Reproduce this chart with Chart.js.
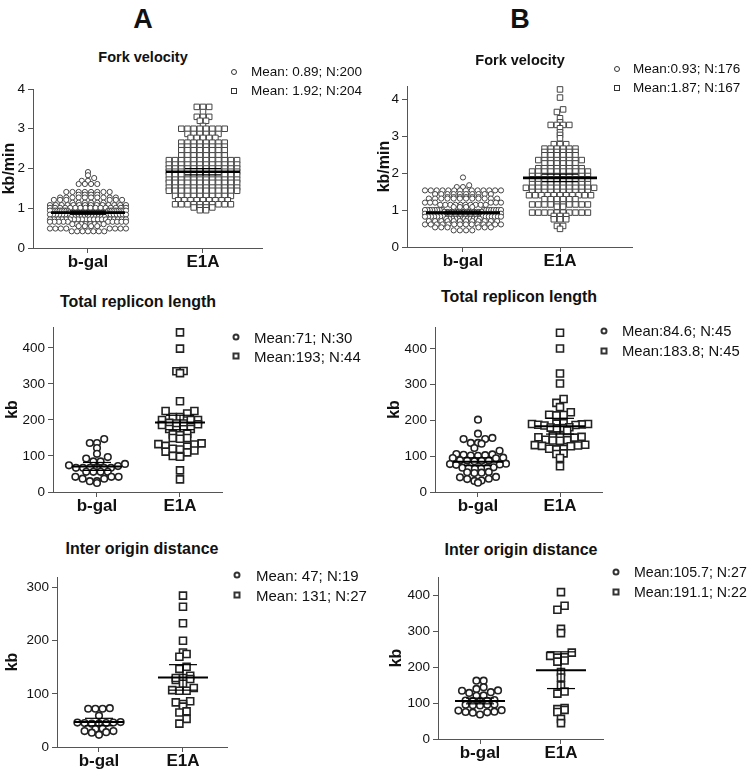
<!DOCTYPE html>
<html>
<head>
<meta charset="utf-8">
<script src="https://cdn.jsdelivr.net/npm/chart.js@4.4.0/dist/chart.umd.min.js"></script>
<style>
  body { margin:0; width:750px; height:773px; position:relative; overflow:hidden; background:#fff;
         font-family:"Liberation Sans", Arial, sans-serif; color:#111; }
  canvas { position:absolute; }
  .txt { position:absolute; white-space:nowrap; line-height:1; }
  .mid { transform:translate(-50%,-50%); }
  .lft { transform:translateY(-50%); }
  .mk  { position:absolute; box-sizing:border-box; background:#fff; transform:translate(-50%,-50%); }
</style>
</head>
<body>
<script>
/* ========= 1.  DATA  ================================================ */
const groups = ['b-gal', 'E1A'];

/* Fork velocity (kb/min) – each swarm row: level + number of fibres */
const forkA_bgal_lvl = [1.91,1.83,1.76,1.69,1.61,1.41,1.34,1.27,1.21,1.14,1.08,1.01,0.94,0.89,0.84,0.78,0.72,0.66,0.60,0.55,0.49,0.42];
const forkA_bgal_n   = [1,1,1,2,4,8,4,10,6,6,14,16,22,22,14,12,20,10,8,4,8,7];
const forkA_e1a_lvl  = [3.55,3.42,3.30,3.20,3.07,3.00,2.87,2.77,2.65,2.55,2.46,2.33,2.21,2.10,2.00,1.92,1.84,1.72,1.64,1.52,1.44,1.31,1.20,1.10,1.02,0.95];
const forkA_e1a_n    = [3,1,3,2,1,8,6,5,8,8,8,8,12,12,12,12,12,12,12,12,12,10,9,10,4,2];

const forkB_bgal_lvl = [1.88,1.67,1.62,1.53,1.43,1.35,1.31,1.20,1.14,1.08,1.00,0.95,0.90,0.82,0.76,0.70,0.61,0.53,0.45];
const forkB_bgal_n   = [1,1,2,14,10,6,12,6,10,4,16,16,16,14,12,12,14,6,4];
const forkB_e1a_lvl  = [4.26,4.04,3.72,3.65,3.48,3.37,3.30,3.21,3.10,3.03,2.94,2.78,2.66,2.57,2.48,2.35,2.26,2.13,2.04,1.92,1.83,1.70,1.60,1.49,1.40,1.29,1.15,1.09,0.93,0.84,0.75,0.57,0.49];
const forkB_e1a_n    = [1,1,1,1,1,1,4,1,1,1,1,3,6,6,6,8,6,8,10,10,10,10,12,10,11,6,10,2,10,3,3,2,1];

/* Total replicon length (kb) */
const replA_bgal = [147,136,136,122,106,97,93,85,85,78,74,72,67,67,67,67,67,67,56,56,56,56,42,42,42,37,37,30,30,25];
const replA_e1a  = [443,398,336,335,330,252,225,225,218,208,208,200,200,200,192,190,190,188,186,175,175,174,172,
                    162,160,158,150,150,148,135,133,132,128,126,120,118,115,112,110,100,100,98,60,35];
const replB_bgal = [202,163,151,148,148,137,137,135,123,115,106,105,104,103,102,101,96,95,94,89,88,88,87,86,
                    79,78,77,76,69,68,68,67,66,65,56,55,54,53,42,41,37,36,32,31,26];
const replB_e1a  = [445,401,331,303,260,249,237,223,216,215,214,192,191,190,190,189,188,187,186,181,180,179,178,
                    172,156,155,154,153,152,146,145,144,143,132,131,130,129,128,121,120,119,108,106,95,72];

/* Inter origin distance (kb) */
const origA_bgal = [73,72,72,72,59,47,46,46,45,45,44,44,35,34,30,30,28,27,23];
const origA_e1a  = [285,264,233,200,178,175,170,151,147,134,130,128,126,130,119,111,106,106,107,86,81,84,76,67,65,53,44];
const origB_bgal = [162,162,144,139,135,134,130,128,121,120,108,107,106,105,104,96,95,95,94,93,80,79,76,75,74,73,68];
const origB_e1a  = [408,370,359,306,294,240,231,227,226,218,215,186,171,149,132,126,86,83,81,75,56,44];

/* means (from legends) and error bar half-widths */
const forkA_mean = [0.89, 1.92],  forkA_err = [0.04, 0.08];
const forkB_mean = [0.93, 1.87],  forkB_err = [0.04, 0.10];
const replA_mean = [71, 193],     replA_err = [11, 20];
const replB_mean = [84.6, 183.8], replB_err = [11, 22];
const origA_mean = [47, 131],     origA_err = [7, 24];
const origB_mean = [105.7, 191.1],origB_err = [8, 51];

/* y tick labels */
const forkTicks = [0, 1, 2, 3, 4];
const replTicks = [0, 100, 200, 300, 400];
const origA_ticks = [0, 100, 200, 300];
const origB_ticks = [0, 100, 200, 300, 400];

const forkA_leg = ['Mean: 0.89; N:200', 'Mean: 1.92; N:204'];
const forkB_leg = ['Mean:0.93; N:176',  'Mean:1.87; N:167'];
const replA_leg = ['Mean:71; N:30',     'Mean:193; N:44'];
const replB_leg = ['Mean:84.6; N:45',   'Mean:183.8; N:45'];
const origA_leg = ['Mean: 47; N:19',    'Mean: 131; N:27'];
const origB_leg = ['Mean:105.7; N:27',  'Mean:191.1; N:22'];

function expand (lvl, n) {
  const out = [];
  lvl.forEach((v, i) => { for (let k = 0; k < n[i]; k++) out.push(v); });
  return out;
}

/* ========= 2.  PANEL LAYOUT  ========================================= */
const fork = { r:2.6, mw:1,   col:'#444', bin:3.6, step:6.2, half:38, meanHalf:37, capHalf:18, lw:2.6, legSz:6, legBw:1.2 };
const kb   = { r:3.3, mw:1.6, col:'#222', bin:6.5, step:7.2, half:28, meanHalf:25, capHalf:14, lw:2,   legSz:7, legBw:2 };

const panels = [
  { ...fork, vals:[expand(forkA_bgal_lvl, forkA_bgal_n), expand(forkA_e1a_lvl, forkA_e1a_n)],
    mean:forkA_mean, err:forkA_err, leg:forkA_leg, title:'Fork velocity', yTitle:'kb/min', yMax:4, yTicks:forkTicks,
    box:{left:0, top:75, w:290, h:205}, area:{left:33, right:262, top:89, bottom:248}, xr:[0.522, 2.513], tPad:0,
    ttl:{x:143, y:57, s:14.5}, legPos:{mx:234, tx:251, y1:72, y2:91, s:13.5} },
  { ...fork, vals:[expand(forkB_bgal_lvl, forkB_bgal_n), expand(forkB_e1a_lvl, forkB_e1a_n)],
    mean:forkB_mean, err:forkB_err, leg:forkB_leg, title:'Fork velocity', yTitle:'kb/min', yMax:4.35, yTicks:forkTicks,
    box:{left:375, top:75, w:275, h:205}, area:{left:407, right:632, top:84, bottom:247}, xr:[0.423, 2.742], tPad:0,
    ttl:{x:520, y:60, s:14.5}, legPos:{mx:617, tx:633, y1:69, y2:88, s:13.5} },
  { ...kb, vals:[replA_bgal, replA_e1a], mean:replA_mean, err:replA_err, leg:replA_leg,
    title:'Total replicon length', yTitle:'kb', yMax:458, yTicks:replTicks,
    box:{left:0, top:315, w:240, h:210}, area:{left:53, right:222, top:327, bottom:492}, xr:[0.47, 2.506], tPad:3,
    ttl:{x:138, y:302, s:16}, legPos:{mx:236, tx:254, y1:337, y2:356, s:15} },
  { ...kb, vals:[replB_bgal, replB_e1a], mean:replB_mean, err:replB_err, leg:replB_leg,
    title:'Total replicon length', yTitle:'kb', yMax:461, yTicks:replTicks,
    box:{left:375, top:315, w:245, h:210}, area:{left:435, right:602, top:327, bottom:492}, xr:[0.476, 2.512], tPad:10,
    ttl:{x:519, y:297, s:16}, legPos:{mx:604, tx:622, y1:331, y2:351, s:14.8} },
  { ...kb, vals:[origA_bgal, origA_e1a], mean:origA_mean, err:origA_err, leg:origA_leg,
    title:'Inter origin distance', yTitle:'kb', yMax:320, yTicks:origA_ticks,
    box:{left:0, top:565, w:240, h:208}, area:{left:57, right:227, top:577, bottom:747}, xr:[0.5, 2.524], tPad:3,
    ttl:{x:142, y:549, s:16}, legPos:{mx:237, tx:256, y1:575, y2:595, s:15} },
  { ...kb, vals:[origB_bgal, origB_e1a], mean:origB_mean, err:origB_err, leg:origB_leg,
    title:'Inter origin distance', yTitle:'kb', yMax:450, yTicks:origB_ticks,
    box:{left:375, top:565, w:245, h:208}, area:{left:438, right:603, top:577, bottom:739}, xr:[0.481, 2.519], tPad:12,
    ttl:{x:521, y:550, s:16}, legPos:{mx:616, tx:634, y1:572, y2:592, s:14.2} }
];

/* ========= 3.  SWARM ROWS (pixel space, Prism-like)  ================= */
// points are binned into horizontal rows; each row is spread symmetrically,
// lowest values in the centre, and squeezed when it would get too wide
function swarmRows (yPix, zeroPix, bin, step, half) {
  const rows = {};
  yPix.forEach((y, i) => {
    const b = Math.round((zeroPix - y) / bin);
    (rows[b] = rows[b] || []).push(i);
  });
  const off = [];
  Object.values(rows).forEach(idx => {
    const n = idx.length;
    const s = n > 1 ? Math.min(step, 2 * half / (n - 1)) : 0;
    const slots = idx.map((_, k) => (k - (n - 1) / 2) * s)
                     .sort((a, b) => Math.abs(a) - Math.abs(b));
    idx.sort((a, b) => yPix[b] - yPix[a]);
    idx.forEach((i, k) => { off[i] = slots[k]; });
  });
  return off;
}

/* ========= 4.  TEXT HELPERS  ======================================== */
function addText (txt, x, y, size, bold, cls) {
  const el = document.createElement('div');
  el.className = 'txt ' + cls;
  el.textContent = txt;
  el.style.cssText += `left:${x}px;top:${y}px;font-size:${size}px;font-weight:${bold ? 'bold' : 'normal'}`;
  document.body.appendChild(el);
}
function addMarker (x, y, sz, bw, round) {
  const el = document.createElement('div');
  el.className = 'mk';
  el.style.cssText += `left:${x}px;top:${y}px;width:${sz}px;height:${sz}px;border:${bw}px solid #333;` +
                      (round ? 'border-radius:50%;' : '');
  document.body.appendChild(el);
}

/* ========= 5.  DRAW  ================================================ */
function drawPanel (p) {
  const cv = document.createElement('canvas');
  cv.width = p.box.w; cv.height = p.box.h;
  cv.style.left = p.box.left + 'px'; cv.style.top = p.box.top + 'px';
  document.body.appendChild(cv);

  const mk = { borderColor:p.col, backgroundColor:'#fff', borderWidth:p.mw, order:2 };
  const ds = [
    { ...mk, data:[], pointStyle:'circle', pointRadius:p.r },
    { ...mk, data:[], pointStyle:'rect',   pointRadius:p.r * 1.5 }
  ];
  const seg = w => ({ data:[], showLine:true, pointRadius:0, borderColor:'#000', borderWidth:w, order:1 });
  for (let g = 0; g < 2; g++) ds.push(seg(p.lw), seg(1.2), seg(1.2), seg(1.2));

  const chart = new Chart(cv, {
    type:'scatter',
    data:{ datasets:ds },
    options:{
      responsive:false, animation:false, events:[],
      layout:{ padding:{ left:0, bottom:0, top:p.area.top - p.box.top,
                         right:p.box.left + p.box.w - p.area.right } },
      plugins:{ legend:{ display:false }, tooltip:{ enabled:false } },
      scales:{
        x:{ type:'linear', min:p.xr[0], max:p.xr[1],
            afterFit: s => { s.height = p.box.top + p.box.h - p.area.bottom; },
            afterBuildTicks: s => { s.ticks = groups.map((_, i) => ({ value:i + 1 })); },
            ticks:{ callback: v => groups[Math.round(v) - 1], font:{ size:17, weight:'bold' },
                    color:'#111', padding:-1, maxRotation:0, autoSkip:false },
            grid:{ drawOnChartArea:false, tickLength:5, color:'#555' },
            border:{ color:'#555' } },
        y:{ min:0, max:p.yMax,
            afterFit: s => { s.width = p.area.left - p.box.left; },
            afterBuildTicks: s => { s.ticks = p.yTicks.map(v => ({ value:v })); },
            ticks:{ font:{ size:13.5 }, color:'#111', padding:3, autoSkip:false },
            grid:{ drawOnChartArea:false, tickLength:5, color:'#555' },
            border:{ color:'#555' },
            title:{ display:true, text:p.yTitle, font:{ size:16, weight:'bold' }, color:'#111', padding:p.tPad } }
      }
    }
  });

  const xs = chart.scales.x, ys = chart.scales.y;
  const pxPerX = xs.getPixelForValue(2) - xs.getPixelForValue(1);
  const zero = ys.getPixelForValue(0);
  const d = chart.data.datasets;
  for (let g = 0; g < 2; g++) {
    const vals = p.vals[g];
    const off  = swarmRows(vals.map(v => ys.getPixelForValue(v)), zero, p.bin, p.step, p.half);
    d[g].data  = vals.map((v, i) => ({ x:g + 1 + off[i] / pxPerX, y:v }));

    const x0 = g + 1, m = p.mean[g], e = p.err[g];
    const hw = p.meanHalf / pxPerX, cw = p.capHalf / pxPerX;
    d[2 + g*4].data = [{ x:x0 - hw, y:m },     { x:x0 + hw, y:m }];
    d[3 + g*4].data = [{ x:x0 - cw, y:m + e }, { x:x0 + cw, y:m + e }];
    d[4 + g*4].data = [{ x:x0 - cw, y:m - e }, { x:x0 + cw, y:m - e }];
    d[5 + g*4].data = [{ x:x0, y:m - e },      { x:x0, y:m + e }];
  }
  chart.update('none');

  /* title + legend as page text */
  addText(p.title, p.ttl.x, p.ttl.y, p.ttl.s, true, 'mid');
  const L = p.legPos;
  addMarker(L.mx, L.y1, p.legSz, p.legBw, true);
  addMarker(L.mx, L.y2, p.legSz, p.legBw, false);
  addText(p.leg[0], L.tx, L.y1, L.s, false, 'lft');
  addText(p.leg[1], L.tx, L.y2, L.s, false, 'lft');
}

addText('A', 143, 19, 27, true, 'mid');
addText('B', 520, 19, 27, true, 'mid');
panels.forEach(drawPanel);
</script>
</body>
</html>
